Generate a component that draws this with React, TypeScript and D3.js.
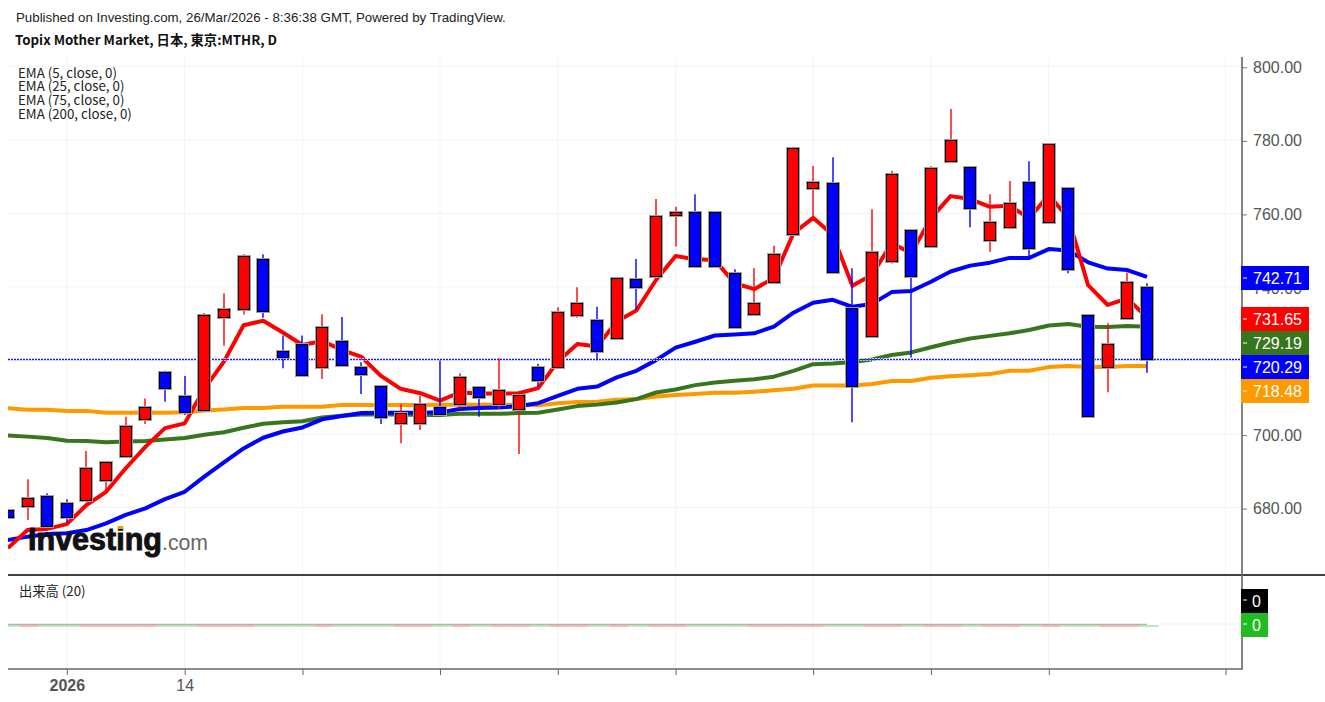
import React, { useEffect, useRef } from 'react';
import * as d3 from 'd3';

// Daily bars, oldest first. The first bar is cut by the left edge of the chart.
const barIndex = d3.range(-3, 56);

const opens = [
  679.4, 680.5, 683.2, 681.3, 682.1, 687.4, 694.0, 704.2, 716.9, 710.4,
  706.6, 731.8, 733.9, 747.5, 722.7, 724.6, 718.1, 725.4, 718.2, 713.2,
  703.0, 703.0, 707.4, 708.3, 712.7, 708.3, 706.7, 718.1, 718.1, 732.3,
  731.1, 726.2, 742.2, 742.9, 759.7, 760.5, 760.5, 743.7, 732.7, 741.3,
  754.3, 767.0, 768.2, 734.4, 726.7, 747.0, 755.6, 751.1, 774.3, 772.7,
  752.7, 756.4, 768.6, 757.6, 767.0, 732.4, 718.1, 731.5, 740.1,
];
const highs = [
  679.4, 687.7, 683.9, 682.3, 695.4, 692.5, 704.7, 709.7, 717.2, 715.8,
  732.9, 738.3, 748.9, 748.9, 726.8, 726.8, 732.6, 731.8, 719.5, 713.3,
  708.1, 710.4, 720.0, 716.5, 712.9, 720.6, 710.8, 719.1, 734.5, 739.9,
  734.6, 742.6, 747.6, 763.9, 761.8, 765.2, 760.6, 744.8, 745.1, 751.2,
  777.9, 772.9, 775.3, 745.1, 761.1, 771.6, 755.7, 772.8, 788.4, 772.8,
  765.2, 768.8, 774.2, 779.1, 767.1, 732.5, 730.1, 743.9, 741.0,
];
const lows = [
  677.5, 676.6, 675.0, 675.8, 682.0, 684.8, 693.9, 702.7, 708.8, 705.2,
  706.5, 724.0, 732.5, 731.6, 717.9, 715.9, 715.0, 718.3, 710.9, 702.7,
  697.5, 701.1, 705.4, 706.8, 704.7, 706.8, 694.6, 712.9, 718.0, 731.6,
  720.1, 725.9, 733.9, 742.8, 751.0, 745.2, 745.6, 728.9, 732.6, 741.2,
  754.2, 759.1, 744.1, 703.2, 726.6, 746.4, 720.8, 751.0, 774.2, 756.2,
  749.6, 756.2, 748.2, 757.5, 743.7, 704.5, 711.4, 731.4, 716.7,
];
const closes = [
  677.5, 682.7, 675.1, 677.5, 690.7, 692.4, 702.1, 707.4, 712.6, 706.1,
  732.4, 734.0, 748.3, 733.5, 720.9, 716.0, 729.1, 718.9, 716.3, 704.6,
  705.8, 708.3, 705.5, 715.6, 710.0, 711.9, 710.6, 714.8, 733.1, 735.6,
  722.5, 742.5, 740.1, 759.3, 760.5, 745.7, 745.7, 729.0, 735.6, 749.0,
  777.8, 768.6, 744.2, 713.2, 749.4, 770.7, 743.0, 772.3, 780.0, 761.4,
  757.6, 762.8, 750.7, 778.8, 745.0, 705.0, 724.6, 741.3, 720.29,
];

const ema5 = [
  669.0, 673.9, 674.2, 675.5, 680.7, 684.3, 690.7, 696.5, 701.6, 702.9,
  712.3, 719.7, 729.6, 730.8, 727.6, 724.2, 725.3, 722.9, 721.0, 715.8,
  712.3, 711.1, 709.1, 711.3, 711.0, 711.0, 711.1, 712.5, 719.7, 724.5,
  723.8, 730.6, 733.6, 741.9, 748.4, 747.5, 747.3, 741.0, 739.4, 742.4,
  754.6, 758.8, 754.1, 740.3, 743.3, 751.9, 749.2, 758.7, 764.7, 763.9,
  761.8, 762.1, 758.7, 765.0, 758.7, 740.5, 735.1, 736.9, 731.65,
];
const ema25 = [
  671.2, 672.1, 672.8, 673.0, 673.9, 675.7, 678.0, 679.8, 682.3, 684.3,
  688.4, 692.3, 696.1, 699.0, 700.7, 701.8, 704.0, 704.9, 705.7, 705.8,
  705.8, 705.8, 705.9, 706.8, 707.1, 707.2, 707.6, 708.4, 710.4, 712.3,
  712.9, 715.4, 717.2, 720.1, 723.5, 725.1, 726.8, 727.1, 727.4, 729.2,
  733.0, 735.7, 736.5, 734.6, 735.4, 738.6, 738.9, 741.4, 744.2, 745.8,
  746.6, 747.9, 747.9, 750.3, 749.9, 746.7, 745.0, 744.6, 742.71,
];
const ema75 = [
  699.6, 699.3, 698.9, 698.2, 698.1, 697.8, 698.0, 698.1, 698.5, 698.9,
  699.8, 700.5, 701.7, 702.8, 703.2, 703.5, 704.5, 705.0, 705.3, 705.3,
  705.3, 705.2, 705.2, 705.5, 705.5, 705.5, 705.7, 705.8, 706.7, 707.6,
  708.0, 708.6, 709.5, 711.3, 712.1, 713.3, 714.0, 714.5, 714.9, 715.6,
  717.2, 719.0, 719.2, 719.6, 720.3, 721.5, 722.2, 723.6, 724.9, 726.0,
  726.7, 727.4, 728.3, 729.5, 729.9, 729.2, 729.1, 729.4, 729.19,
];
const ema200 = [
  707.0, 706.6, 706.6, 706.3, 706.3, 705.8, 705.8, 705.8, 705.8, 705.9,
  706.4, 706.7, 707.1, 707.1, 707.4, 707.4, 707.4, 707.9, 707.9, 707.9,
  707.9, 707.9, 708.0, 708.0, 708.0, 708.0, 707.9, 707.8, 708.4, 708.7,
  708.8, 709.3, 709.5, 710.2, 710.6, 710.9, 711.2, 711.2, 711.5, 711.9,
  712.3, 713.2, 713.2, 713.2, 713.6, 714.4, 714.4, 715.3, 715.7, 716.0,
  716.3, 717.2, 717.2, 718.2, 718.5, 718.2, 718.2, 718.5, 718.48,
];

// Every bar reports no volume on this symbol.
const volumes = barIndex.map(() => 0);

const priceTicks = [680, 700, 720, 740, 760, 780, 800];
const timeTicks = [0, 6, 12, 19, 25, 31, 38, 44, 50, 59];
const timeLabels: Record<number, string> = { 0: '2026', 6: '14' };
const legendLabels = ['EMA (5, close, 0)', 'EMA (25, close, 0)', 'EMA (75, close, 0)', 'EMA (200, close, 0)'];

const RED = '#ff0000';
const BLUE = '#0000ff';
const GREEN = '#38761d';
const ORANGE = '#ff9900';

const emaSeries = [
  { values: ema200, color: ORANGE },
  { values: ema75, color: GREEN },
  { values: ema25, color: BLUE },
  { values: ema5, color: RED },
];

export default function App() {
  const svgRef = useRef<SVGSVGElement>(null);

  useEffect(() => {
    if (!svgRef.current) return;
    const svg = d3.select(svgRef.current);
    svg.selectAll('*').remove();

    const left = 8;
    const right = 1242;
    const top = 58;
    const paneBottom = 575;
    const bottom = 669;
    const sans = '"Liberation Sans", Arial, sans-serif';
    const cjk = '"Noto Sans CJK JP", "Noto Sans", sans-serif';

    const x = d3.scaleLinear().domain([-3, 55]).range([7.9, 1147]);
    const y = d3.scaleLinear().domain([680, 800]).range([507.6, 66.3]);
    const yVol = d3.scaleLinear().domain([0, 1]).range([625, 590]);

    svg.append('rect').attr('width', 1325).attr('height', 702).attr('fill', '#fff');

    svg.append('defs')
      .append('clipPath')
      .attr('id', 'plot-clip')
      .append('rect')
      .attr('x', left)
      .attr('y', top)
      .attr('width', right - left)
      .attr('height', paneBottom - top);

    // Header
    svg.append('text')
      .attr('x', 16)
      .attr('y', 22)
      .attr('font-family', sans)
      .attr('font-size', 13.3)
      .attr('fill', '#222')
      .text('Published on Investing.com, 26/Mar/2026 - 8:36:38 GMT, Powered by TradingView.');

    svg.append('text')
      .attr('x', 15)
      .attr('y', 45)
      .attr('font-family', cjk)
      .attr('font-size', 13.3)
      .attr('font-weight', 700)
      .attr('fill', '#111')
      .text('Topix Mother Market, 日本, 東京:MTHR, D');

    // Grid
    svg.append('g')
      .selectAll('line')
      .data(timeTicks)
      .enter()
      .append('line')
      .attr('x1', d => x(d))
      .attr('x2', d => x(d))
      .attr('y1', top)
      .attr('y2', bottom)
      .attr('stroke', '#f3f3f3');

    svg.append('g')
      .selectAll('line')
      .data(priceTicks)
      .enter()
      .append('line')
      .attr('x1', left)
      .attr('x2', right)
      .attr('y1', d => y(d))
      .attr('y2', d => y(d))
      .attr('stroke', '#f3f3f3');

    const plot = svg.append('g').attr('clip-path', 'url(#plot-clip)');

    // EMA lines sit behind the candles
    const emaLine = d3.line<number>()
      .x((_, i) => x(barIndex[i]))
      .y(d => y(d));

    emaSeries.forEach(s => {
      plot.append('path')
        .attr('d', emaLine(s.values))
        .attr('fill', 'none')
        .attr('stroke', s.color)
        .attr('stroke-width', 4)
        .attr('stroke-linejoin', 'round');
    });

    // Last price line, with a pale edge around the dots
    const lastY = Math.round(y(closes[closes.length - 1])) + 0.5;
    [{ color: '#c6c6ff', width: 3 }, { color: '#1a1aff', width: 1 }].forEach(s => {
      plot.append('line')
        .attr('x1', left)
        .attr('x2', right)
        .attr('y1', lastY)
        .attr('y2', lastY)
        .attr('stroke', s.color)
        .attr('stroke-width', s.width)
        .attr('stroke-dasharray', '2,1');
    });

    // Candles, snapped to whole pixels so the outline stays crisp
    const bodyWidth = 11;
    const bodyLeft = (d: number) => Math.round(x(d) - 6) + 0.5;
    const bodyTop = (i: number) => Math.round(y(Math.max(opens[i], closes[i]))) + 0.5;
    const bodyHeight = (i: number) =>
      Math.max(1, Math.round(y(Math.min(opens[i], closes[i]))) + 0.5 - bodyTop(i));

    const candles = plot.selectAll('.candle')
      .data(barIndex)
      .enter()
      .append('g')
      .attr('class', 'candle');

    const colorOf = (i: number) => (closes[i] >= opens[i] ? RED : BLUE);

    candles.append('line')
      .attr('x1', d => bodyLeft(d) + bodyWidth / 2)
      .attr('x2', d => bodyLeft(d) + bodyWidth / 2)
      .attr('y1', (_, i) => y(highs[i]))
      .attr('y2', (_, i) => y(lows[i]))
      .attr('stroke', (_, i) => colorOf(i))
      .attr('stroke-width', 1.4);

    candles.append('rect')
      .attr('x', d => bodyLeft(d))
      .attr('width', bodyWidth)
      .attr('y', (_, i) => bodyTop(i))
      .attr('height', (_, i) => bodyHeight(i))
      .attr('fill', 'none')
      .attr('stroke', '#a0a0a0')
      .attr('stroke-width', 3);

    candles.append('rect')
      .attr('x', d => bodyLeft(d))
      .attr('width', bodyWidth)
      .attr('y', (_, i) => bodyTop(i))
      .attr('height', (_, i) => bodyHeight(i))
      .attr('fill', (_, i) => colorOf(i))
      .attr('stroke', '#000')
      .attr('stroke-width', 1);

    // Legend
    svg.append('g')
      .selectAll('text')
      .data(legendLabels)
      .enter()
      .append('text')
      .attr('x', 18)
      .attr('y', (_, i) => 77.5 + i * 13.7)
      .attr('font-family', cjk)
      .attr('font-size', 13.3)
      .attr('fill', '#222')
      .text(d => d);

    // Watermark
    const logo = svg.append('g');
    logo.append('text')
      .attr('x', 28)
      .attr('y', 550)
      .attr('font-family', sans)
      .attr('font-size', 32)
      .attr('font-weight', 700)
      .attr('fill', '#111')
      .attr('stroke', '#111')
      .attr('stroke-width', 1)
      .attr('textLength', 134)
      .attr('lengthAdjust', 'spacingAndGlyphs')
      .text('Investing');
    logo.append('text')
      .attr('x', 162)
      .attr('y', 550)
      .attr('font-family', sans)
      .attr('font-size', 22)
      .attr('fill', '#666')
      .attr('textLength', 46)
      .attr('lengthAdjust', 'spacingAndGlyphs')
      .text('.com');
    logo.append('rect')
      .attr('x', 118)
      .attr('y', 526)
      .attr('width', 5)
      .attr('height', 3)
      .attr('fill', ORANGE);

    // Volume pane
    svg.append('text')
      .attr('x', 19)
      .attr('y', 596)
      .attr('font-family', cjk)
      .attr('font-size', 13.3)
      .attr('fill', '#222')
      .text('出来高 (20)');

    svg.append('line')
      .attr('x1', x(55) + 13)
      .attr('x2', right)
      .attr('y1', yVol(0) - 1)
      .attr('y2', yVol(0) - 1)
      .attr('stroke', '#f0f0f0');

    svg.append('g')
      .selectAll('rect')
      .data(barIndex)
      .enter()
      .append('rect')
      .attr('x', d => Math.max(left, x(d) - 8))
      .attr('width', d => x(d) + 11.6 - Math.max(left, x(d) - 8))
      .attr('y', (_, i) => yVol(volumes[i]))
      .attr('height', 1.8)
      .attr('fill', (_, i) => (closes[i] >= opens[i] ? '#f4b0b0' : '#b4e4b4'));

    svg.append('path')
      .attr('d', d3.line<number>().x((_, i) => x(barIndex[i])).y(d => yVol(d) - 0.6)(volumes))
      .attr('fill', 'none')
      .attr('stroke', '#b5b5b5')
      .attr('stroke-width', 1.3);

    // Price axis
    const priceAxis = svg.append('g')
      .attr('transform', `translate(${right},1)`)
      .call(d3.axisRight(y).tickValues(priceTicks).tickFormat(d3.format('.2f')).tickSize(5).tickPadding(6));
    priceAxis.select('.domain').remove();
    priceAxis.selectAll('line').attr('stroke', '#777');
    priceAxis.selectAll('text')
      .attr('font-family', sans)
      .attr('font-size', 16)
      .attr('fill', '#555');

    // Time axis
    const timeAxis = svg.append('g')
      .attr('transform', `translate(0,${bottom})`)
      .call(d3.axisBottom(x).tickValues(timeTicks).tickFormat(d => timeLabels[+d] ?? '').tickSize(6).tickPadding(5));
    timeAxis.select('.domain').remove();
    timeAxis.selectAll('line').attr('stroke', '#666');
    timeAxis.selectAll('text')
      .attr('font-family', sans)
      .attr('font-size', 16)
      .attr('fill', '#555')
      .attr('font-weight', d => (d === 0 ? 700 : 400));

    // Pane borders
    svg.append('line')
      .attr('x1', left)
      .attr('x2', 1325)
      .attr('y1', paneBottom)
      .attr('y2', paneBottom)
      .attr('stroke', '#000')
      .attr('stroke-width', 1.6);
    svg.append('line')
      .attr('x1', left)
      .attr('x2', right + 0.8)
      .attr('y1', bottom)
      .attr('y2', bottom)
      .attr('stroke', '#666')
      .attr('stroke-width', 1.6);
    svg.append('line')
      .attr('x1', right)
      .attr('x2', right)
      .attr('y1', top - 1)
      .attr('y2', bottom)
      .attr('stroke', '#666')
      .attr('stroke-width', 1.6);

    // Last value labels, stacked so they do not overlap
    const priceLabels = [
      { value: ema25[ema25.length - 1], color: BLUE, top: 266 },
      { value: ema5[ema5.length - 1], color: RED, top: 307 },
      { value: ema75[ema75.length - 1], color: GREEN, top: 331 },
      { value: closes[closes.length - 1], color: BLUE, top: 355 },
      { value: ema200[ema200.length - 1], color: ORANGE, top: 379 },
    ];
    const priceBoxes = svg.append('g')
      .selectAll('g')
      .data(priceLabels)
      .enter()
      .append('g');
    priceBoxes.append('rect')
      .attr('x', right - 1)
      .attr('y', d => d.top)
      .attr('width', 68)
      .attr('height', 24)
      .attr('fill', d => d.color);
    priceBoxes.append('line')
      .attr('x1', right + 1)
      .attr('x2', right + 5)
      .attr('y1', d => d.top + 12)
      .attr('y2', d => d.top + 12)
      .attr('stroke', '#fff');
    priceBoxes.append('text')
      .attr('x', right + 11)
      .attr('y', d => d.top + 18)
      .attr('font-family', sans)
      .attr('font-size', 16)
      .attr('fill', '#fff')
      .text(d => d3.format('.2f')(d.value));

    const volumeBoxes = svg.append('g')
      .selectAll('g')
      .data([
        { value: volumes[volumes.length - 1], color: '#000', top: 589 },
        { value: volumes[volumes.length - 1], color: '#22bb22', top: 613 },
      ])
      .enter()
      .append('g');
    volumeBoxes.append('rect')
      .attr('x', right - 1)
      .attr('y', d => d.top)
      .attr('width', 27)
      .attr('height', 24)
      .attr('fill', d => d.color);
    volumeBoxes.append('line')
      .attr('x1', right + 1)
      .attr('x2', right + 5)
      .attr('y1', d => d.top + 11)
      .attr('y2', d => d.top + 11)
      .attr('stroke', '#fff');
    volumeBoxes.append('text')
      .attr('x', right + 10)
      .attr('y', d => d.top + 18)
      .attr('font-family', sans)
      .attr('font-size', 16)
      .attr('fill', '#fff')
      .text(d => String(d.value));
  }, []);

  return (
    <svg
      ref={svgRef}
      width={1325}
      height={702}
      style={{ position: 'absolute', left: 0, top: 0, display: 'block' }}
    />
  );
}
